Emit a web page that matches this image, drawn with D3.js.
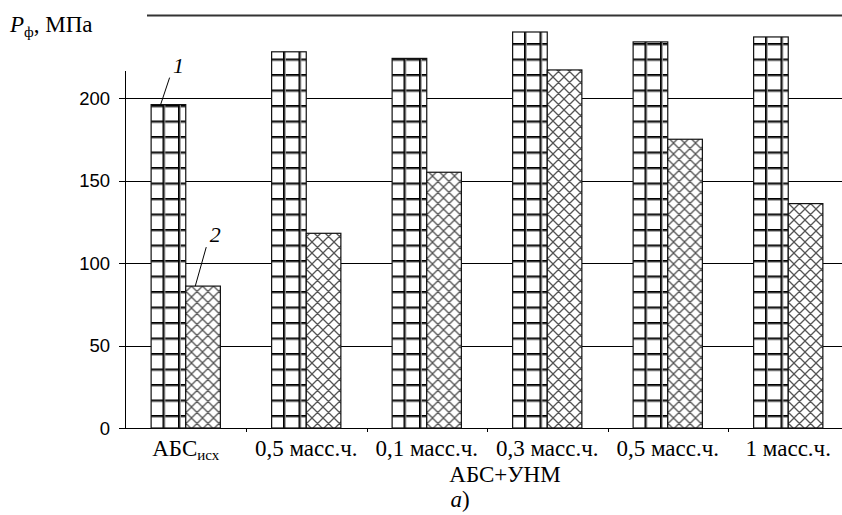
<!DOCTYPE html>
<html>
<head>
<meta charset="utf-8">
<script src="https://cdn.jsdelivr.net/npm/d3@7"></script>
<style>
  body { margin: 0; background: #fff; }
  svg { display: block; }
</style>
</head>
<body>
<script>
// group labels (first one gets a subscript)
const categories = ['АБС', '0,5 масс.ч.', '0,1 масс.ч.', '0,3 масс.ч.', '0,5 масс.ч.', '1 масс.ч.'];
const series1 = [196, 228, 224, 240, 234, 237];
const series2 = [86, 118, 155, 217, 175, 136];
const yTicks = [0, 50, 100, 150, 200];

const W = 842, H = 515;
const margin = { top: 15.5, left: 125.5, bottom: 87 };
const plotH = H - margin.top - margin.bottom;

const svg = d3.select('body').append('svg')
    .attr('width', W)
    .attr('height', H);

// patterns
const defs = svg.append('defs');
const grid = defs.append('pattern')
    .attr('id', 'grid')
    .attr('patternUnits', 'userSpaceOnUse')
    .attr('patternTransform', 'translate(6,12)')
    .attr('width', 15.5).attr('height', 15.5)
grid.append('rect').attr('width', 15.5).attr('height', 15.5).attr('fill', '#fff');
grid.append('rect').attr('x', 0).attr('y', 0).attr('width', 15.5).attr('height', 1.8).attr('fill', '#000');
grid.append('rect').attr('x', 0).attr('y', 1.8).attr('width', 15.5).attr('height', 1).attr('fill', '#999');
grid.append('rect').attr('x', 0).attr('y', 0).attr('width', 1.8).attr('height', 15.5).attr('fill', '#000');
grid.append('rect').attr('x', 1.8).attr('y', 0).attr('width', 1).attr('height', 15.5).attr('fill', '#999');

const hatch = defs.append('pattern')
    .attr('id', 'hatch')
    .attr('patternUnits', 'userSpaceOnUse')
    .attr('width', 11).attr('height', 11)
hatch.append('rect').attr('width', 11).attr('height', 11).attr('fill', '#fff');
hatch.append('path')
    .attr('d', 'M-1,-1 L12,12 M-1,10 L1,12 M10,-1 L12,1 M12,-1 L-1,12 M-1,1 L1,-1 M10,12 L12,10')
    .attr('stroke', '#555').attr('stroke-width', 1.3).attr('fill', 'none');

const x = d3.scaleBand()
    .domain(d3.range(categories.length))
    .range([margin.left, margin.left + 120.5 * categories.length]);

const xInner = d3.scaleBand()
    .domain([0, 1])
    .range([0, x.bandwidth()])
    .paddingOuter(0.74)
    .paddingInner(0);

const y = d3.scaleLinear()
    .domain([0, 250])
    .range([margin.top + plotH, margin.top]);

// top border line
svg.append('line')
    .attr('x1', 147).attr('x2', W)
    .attr('y1', y(250)).attr('y2', y(250))
    .attr('stroke', '#333').attr('stroke-width', 2);

// gridlines
svg.append('g')
    .selectAll('line')
    .data(yTicks)
    .join('line')
    .attr('x1', margin.left - 6.5).attr('x2', W)
    .attr('y1', d => Math.round(y(d)) + 0.5).attr('y2', d => Math.round(y(d)) + 0.5)
    .attr('stroke', '#000').attr('stroke-width', 1);

// y axis line
svg.append('line')
    .attr('x1', margin.left).attr('x2', margin.left)
    .attr('y1', 71).attr('y2', y(0))
    .attr('stroke', '#000');

// x ticks
svg.append('g')
    .selectAll('line')
    .data(d3.range(1, categories.length))
    .join('line')
    .attr('x1', d => Math.round(x(d)) + 0.5).attr('x2', d => Math.round(x(d)) + 0.5)
    .attr('y1', y(0)).attr('y2', y(0) + 4)
    .attr('stroke', '#000');

// y labels
svg.append('g')
    .selectAll('text')
    .data(yTicks)
    .join('text')
    .attr('x', 110)
    .attr('y', d => y(d))
    .attr('dy', '0.36em')
    .attr('text-anchor', 'end')
    .attr('font-family', '"Liberation Sans", Arial, sans-serif')
    .attr('font-size', 18.5)
    .text(d => d);

// bars
const groups = svg.append('g')
    .selectAll('g')
    .data(categories.map((c, i) => [series1[i], series2[i]]))
    .join('g')
    .attr('transform', (d, i) => `translate(${x(i)},0)`);

groups.selectAll('rect')
    .data(d => d)
    .join('rect')
    .attr('x', (d, j) => xInner(j))
    .attr('width', xInner.bandwidth())
    .attr('y', d => y(d))
    .attr('height', d => y(0) - y(d))
    .attr('fill', (d, j) => j === 0 ? 'url(#grid)' : 'url(#hatch)')
    .attr('stroke', '#111')
    .attr('stroke-width', 1.2);

// category labels
const serif = '"Liberation Serif", "Times New Roman", serif';
const fs = 23;
const catText = svg.append('g')
    .selectAll('text')
    .data(categories)
    .join('text')
    .attr('x', (d, i) => x(i) + x.bandwidth() / 2)
    .attr('y', 456)
    .attr('text-anchor', 'middle')
    .attr('font-family', serif)
    .attr('font-size', fs)
    .text(d => d);
catText.filter((d, i) => i === 0)
    .append('tspan')
    .attr('dy', 4)
    .attr('font-size', 15)
    .text('исх');

svg.append('text')
    .attr('x', 505)
    .attr('y', 482)
    .attr('text-anchor', 'middle')
    .attr('font-family', serif)
    .attr('font-size', fs)
    .text('АБС+УНМ');

svg.append('text')
    .attr('x', 460)
    .attr('y', 507)
    .attr('text-anchor', 'middle')
    .attr('font-family', serif)
    .attr('font-size', fs)
    .html('<tspan font-style="italic">а</tspan>)');

// y title
const title = svg.append('text')
    .attr('x', 10)
    .attr('y', 32)
    .attr('font-family', serif)
    .attr('font-size', fs);
title.append('tspan').attr('font-style', 'italic').text('P');
title.append('tspan').attr('dy', 5).attr('font-size', 15).text('ф');
title.append('tspan').attr('dy', -5).text(', МПа');

// bar labels 1 and 2
const notes = [
    { num: '1', g: 0, s: 0 },
    { num: '2', g: 0, s: 1 }
];
notes.forEach(n => {
    const v = n.s === 0 ? series1[n.g] : series2[n.g];
    const bx = x(n.g) + xInner(n.s) + 9.5;
    const by = y(v);
    const dx = n.s === 0 ? 9 : 11;
    const dy = n.s === 0 ? 27 : 39;
    svg.append('line')
        .attr('x1', bx).attr('y1', by)
        .attr('x2', bx + dx).attr('y2', by - dy)
        .attr('stroke', '#000').attr('stroke-width', 1);
    svg.append('text')
        .attr('x', bx + dx + 9)
        .attr('y', by - dy - 5)
        .attr('text-anchor', 'middle')
        .attr('font-family', serif)
        .attr('font-style', 'italic')
        .attr('font-size', 22)
        .text(n.num);
});
</script>
</body>
</html>
